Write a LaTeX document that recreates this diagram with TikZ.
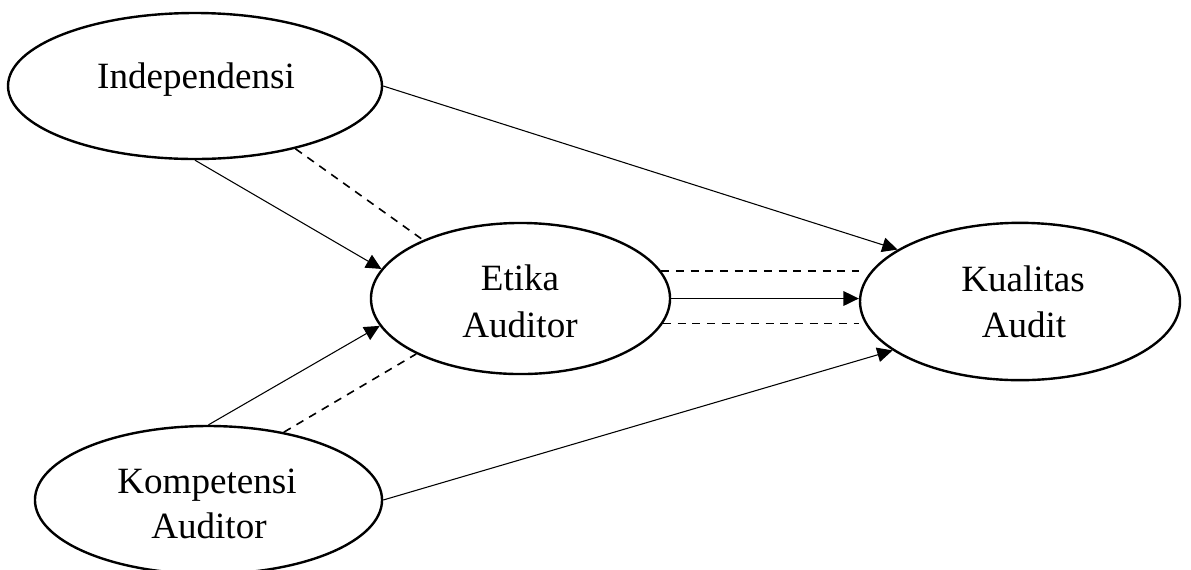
\documentclass[tikz,border=0pt]{standalone}
\usepackage{fontspec}
\setmainfont{Liberation Serif}
\usetikzlibrary{arrows.meta,shapes.geometric}
\begin{document}
\begin{tikzpicture}[x=0.75pt,y=-0.75pt,
  var/.style={draw=black,line width=1.8pt,ellipse,inner sep=0pt},
  lbl/.style={font=\fontsize{27.8}{34.5}\selectfont,align=center,inner sep=0pt},
  conn/.style={line width=0.8pt,-{Triangle[length=11.5pt,width=11pt]}},
  dashline/.style={line width=1.2pt,dash pattern=on 6pt off 5pt}]
\useasboundingbox (0,0) rectangle (1191,569);
\node[var,minimum width=280.5pt,minimum height=109.5pt] (indep) at (195,86) {};
\node[var,minimum width=224.3pt,minimum height=113.3pt] (etika) at (520.5,298.5) {};
\node[var,minimum width=240pt,minimum height=118pt] (kual) at (1020,301.5) {};
\node[var,minimum width=260.3pt,minimum height=111pt] (komp) at (208.5,500) {};
\node[lbl,anchor=base] (tindep) at (196,88) {Independensi};
\node[lbl,anchor=base] (tetika1) at (520,290) {Etika};
\node[lbl,anchor=base] (tetika2) at (520,337) {Auditor};
\node[lbl,anchor=base] (tkual1) at (1023,291) {Kualitas};
\node[lbl,anchor=base] (tkual2) at (1024,337) {Audit};
\node[lbl,anchor=base] (tkomp1) at (207,493) {Kompetensi};
\node[lbl,anchor=base] (tkomp2) at (209,538) {Auditor};
\draw[conn] (indep.east) -- (kual.157);
\draw[conn] (indep.south) -- (etika.168.5);
\draw[dashline] (indep.-32.6) -- (etika.149);
\draw[conn] (komp.north) -- (etika.-169.3);
\draw[dashline] (komp.42) -- (etika.-152.7);
\draw[conn] (komp.east) -- (kual.-159.6);
\draw[conn] (etika.east) -- (etika.east -| kual.west);
\draw[dashline] (etika.11.2) -- (etika.11.2 -| kual.west);
\draw[dashline] (etika.-10.5) -- (etika.-10.5 -| kual.west);
\end{tikzpicture}
\end{document}
